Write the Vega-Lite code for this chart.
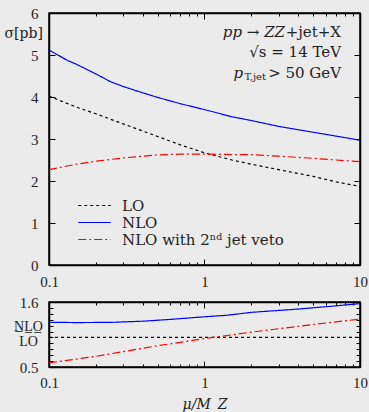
{
  "$schema": "https://vega.github.io/schema/vega-lite/v6.json",
  "background": "#ebebeb",
  "padding": {"left": 3, "top": 5, "right": 0, "bottom": 0},
  "spacing": 1,
  "config": {
    "font": "Liberation Serif",
    "view": {"stroke": "black", "strokeWidth": 1.5},
    "axis": {
      "grid": false,
      "domainColor": "black",
      "domainWidth": 1.5,
      "tickColor": "black",
      "tickWidth": 1,
      "labelColor": "#222222",
      "labelFontSize": 15,
      "labelFont": "Liberation Serif",
      "titleFont": "Liberation Serif",
      "titleFontWeight": "normal",
      "titleColor": "#222222"
    }
  },
  "datasets": {
    "main": [
      {"mu": 0.1, "sigma": 4.02, "series": "LO"},
      {"mu": 0.15, "sigma": 3.76, "series": "LO"},
      {"mu": 0.2, "sigma": 3.6, "series": "LO"},
      {"mu": 0.3, "sigma": 3.36, "series": "LO"},
      {"mu": 0.5, "sigma": 3.06, "series": "LO"},
      {"mu": 0.7, "sigma": 2.86, "series": "LO"},
      {"mu": 1, "sigma": 2.67, "series": "LO"},
      {"mu": 1.5, "sigma": 2.5, "series": "LO"},
      {"mu": 2, "sigma": 2.4, "series": "LO"},
      {"mu": 3, "sigma": 2.27, "series": "LO"},
      {"mu": 5, "sigma": 2.11, "series": "LO"},
      {"mu": 7, "sigma": 1.98, "series": "LO"},
      {"mu": 10, "sigma": 1.87, "series": "LO"},
      {"mu": 0.1, "sigma": 5.12, "series": "NLO"},
      {"mu": 0.13, "sigma": 4.88, "series": "NLO"},
      {"mu": 0.15, "sigma": 4.78, "series": "NLO"},
      {"mu": 0.2, "sigma": 4.55, "series": "NLO"},
      {"mu": 0.25, "sigma": 4.36, "series": "NLO"},
      {"mu": 0.3, "sigma": 4.25, "series": "NLO"},
      {"mu": 0.4, "sigma": 4.1, "series": "NLO"},
      {"mu": 0.5, "sigma": 3.99, "series": "NLO"},
      {"mu": 0.7, "sigma": 3.84, "series": "NLO"},
      {"mu": 1, "sigma": 3.7, "series": "NLO"},
      {"mu": 1.5, "sigma": 3.53, "series": "NLO"},
      {"mu": 2, "sigma": 3.44, "series": "NLO"},
      {"mu": 3, "sigma": 3.3, "series": "NLO"},
      {"mu": 5, "sigma": 3.16, "series": "NLO"},
      {"mu": 7, "sigma": 3.07, "series": "NLO"},
      {"mu": 10, "sigma": 2.97, "series": "NLO"},
      {"mu": 0.1, "sigma": 2.27, "series": "NLO with 2ⁿᵈ jet veto"},
      {"mu": 0.15, "sigma": 2.4, "series": "NLO with 2ⁿᵈ jet veto"},
      {"mu": 0.2, "sigma": 2.47, "series": "NLO with 2ⁿᵈ jet veto"},
      {"mu": 0.3, "sigma": 2.55, "series": "NLO with 2ⁿᵈ jet veto"},
      {"mu": 0.5, "sigma": 2.62, "series": "NLO with 2ⁿᵈ jet veto"},
      {"mu": 0.7, "sigma": 2.64, "series": "NLO with 2ⁿᵈ jet veto"},
      {"mu": 1, "sigma": 2.64, "series": "NLO with 2ⁿᵈ jet veto"},
      {"mu": 1.5, "sigma": 2.63, "series": "NLO with 2ⁿᵈ jet veto"},
      {"mu": 2, "sigma": 2.63, "series": "NLO with 2ⁿᵈ jet veto"},
      {"mu": 3, "sigma": 2.59, "series": "NLO with 2ⁿᵈ jet veto"},
      {"mu": 5, "sigma": 2.54, "series": "NLO with 2ⁿᵈ jet veto"},
      {"mu": 7, "sigma": 2.5, "series": "NLO with 2ⁿᵈ jet veto"},
      {"mu": 10, "sigma": 2.46, "series": "NLO with 2ⁿᵈ jet veto"}
    ],
    "ratio": [
      {"mu": 0.1, "r": 1.0, "series": "LO"},
      {"mu": 10, "r": 1.0, "series": "LO"},
      {"mu": 0.1, "r": 1.257, "series": "NLO"},
      {"mu": 0.15, "r": 1.252, "series": "NLO"},
      {"mu": 0.25, "r": 1.255, "series": "NLO"},
      {"mu": 0.4, "r": 1.275, "series": "NLO"},
      {"mu": 0.6, "r": 1.305, "series": "NLO"},
      {"mu": 1, "r": 1.35, "series": "NLO"},
      {"mu": 1.4, "r": 1.376, "series": "NLO"},
      {"mu": 2, "r": 1.425, "series": "NLO"},
      {"mu": 4, "r": 1.48, "series": "NLO"},
      {"mu": 7, "r": 1.535, "series": "NLO"},
      {"mu": 10, "r": 1.573, "series": "NLO"},
      {"mu": 0.1, "r": 0.57, "series": "NLO with 2ⁿᵈ jet veto"},
      {"mu": 0.2, "r": 0.68, "series": "NLO with 2ⁿᵈ jet veto"},
      {"mu": 0.5, "r": 0.86, "series": "NLO with 2ⁿᵈ jet veto"},
      {"mu": 1, "r": 0.98, "series": "NLO with 2ⁿᵈ jet veto"},
      {"mu": 2, "r": 1.09, "series": "NLO with 2ⁿᵈ jet veto"},
      {"mu": 5, "r": 1.22, "series": "NLO with 2ⁿᵈ jet veto"},
      {"mu": 10, "r": 1.31, "series": "NLO with 2ⁿᵈ jet veto"}
    ]
  },
  "vconcat": [
    {
      "width": 311,
      "height": 252,
      "layer": [
        {
          "data": {"name": "main"},
          "mark": {"type": "line", "strokeWidth": 1.2},
          "encoding": {
            "x": {
              "field": "mu", "type": "quantitative",
              "scale": {"type": "log", "domain": [0.1, 10]},
              "axis": {
                "orient": "bottom", "title": null,
                "values": [0.1,0.2,0.3,0.4,0.5,0.6,0.7,0.8,0.9,1,2,3,4,5,6,7,8,9,10],
                "labelExpr": "datum.value==0.1?'0.1':datum.value==1?'1':datum.value==10?'10':''",
                "labelOverlap": false, "labelFlush": false, "labelBound": false,
                "tickSize": {"condition": {"test": "datum.value==0.1||datum.value==1||datum.value==10", "value": -6}, "value": -3},
                "labelPadding": 15
              }
            },
            "y": {
              "field": "sigma", "type": "quantitative",
              "scale": {"domain": [0, 6]},
              "axis": {
                "orient": "left", "values": [0,1,2,3,4,5,6], "tickSize": -6, "labelPadding": 17,
                "title": "σ[pb]", "titleAngle": 0, "titleAlign": "left", "titleBaseline": "middle",
                "titleX": -45, "titleY": 20, "titleFontSize": 14, "titleFont": "DejaVu Serif"
              }
            },
            "color": {
              "field": "series", "type": "nominal",
              "scale": {"domain": ["LO", "NLO", "NLO with 2ⁿᵈ jet veto"], "range": ["black", "blue", "red"]},
              "legend": {
                "title": null, "orient": "none", "legendX": 37, "legendY": 184,
                "symbolType": "M-2.1,0H2.1", "symbolSize": 240, "symbolStrokeWidth": 1.2,
                "labelFont": "DejaVu Serif", "labelFontSize": 15, "labelColor": "#222222", "labelOffset": 19, "labelLimit": 300, "rowPadding": 0
              }
            },
            "strokeDash": {
              "field": "series", "type": "nominal",
              "scale": {"domain": ["LO", "NLO", "NLO with 2ⁿᵈ jet veto"], "range": [[3, 3], [1, 0], [8, 3, 2, 3]]},
              "legend": {
                "title": null, "orient": "none", "legendX": 37, "legendY": 184,
                "symbolType": "M-2.1,0H2.1", "symbolSize": 240, "symbolStrokeWidth": 1.2,
                "labelFont": "DejaVu Serif", "labelFontSize": 15, "labelColor": "#222222", "labelOffset": 19, "labelLimit": 300, "rowPadding": 0
              }
            }
          }
        },
        {
          "data": {"name": "main"},
          "mark": {"type": "line", "opacity": 0},
          "encoding": {
            "x": {
              "field": "mu", "type": "quantitative",
              "scale": {"type": "log", "domain": [0.1, 10]},
              "axis": {
                "orient": "top", "title": null, "labels": false,
                "values": [0.1,0.2,0.3,0.4,0.5,0.6,0.7,0.8,0.9,1,2,3,4,5,6,7,8,9,10],
                "tickSize": {"condition": {"test": "datum.value==0.1||datum.value==1||datum.value==10", "value": -6}, "value": -3}
              }
            },
            "y": {
              "field": "sigma", "type": "quantitative",
              "scale": {"domain": [0, 6]},
              "axis": {"orient": "right", "title": null, "labels": false, "values": [0,1,2,3,4,5,6], "tickSize": -6}
            }
          }
        },
        {
          "data": {"values": [{}]},
          "mark": {"type": "text", "align": "right", "baseline": "middle", "fontSize": 15, "font": "DejaVu Serif", "color": "#222222"},
          "encoding": {"x": {"datum": 7.55, "type": "quantitative", "axis": null}, "y": {"datum": 5.55, "type": "quantitative", "axis": null}, "text": {"value": "+jet+X"}}
        },
        {
          "data": {"values": [{}]},
          "mark": {"type": "text", "align": "right", "baseline": "middle", "fontSize": 15, "font": "DejaVu Serif", "fontStyle": "italic", "color": "#222222", "dx": -56},
          "encoding": {"x": {"datum": 7.55, "type": "quantitative", "axis": null}, "y": {"datum": 5.55, "type": "quantitative", "axis": null}, "text": {"value": "pp → ZZ"}}
        },
        {
          "data": {"values": [{}]},
          "mark": {"type": "text", "align": "right", "baseline": "middle", "fontSize": 15, "font": "DejaVu Serif", "color": "#222222"},
          "encoding": {"x": {"datum": 7.55, "type": "quantitative", "axis": null}, "y": {"datum": 5.08, "type": "quantitative", "axis": null}, "text": {"value": "√s = 14 TeV"}}
        },
        {
          "data": {"values": [{}]},
          "mark": {"type": "text", "align": "right", "baseline": "middle", "fontSize": 15, "font": "DejaVu Serif", "color": "#222222"},
          "encoding": {"x": {"datum": 7.55, "type": "quantitative", "axis": null}, "y": {"datum": 4.58, "type": "quantitative", "axis": null}, "text": {"value": "> 50 GeV"}}
        },
        {
          "data": {"values": [{}]},
          "mark": {"type": "text", "align": "right", "baseline": "middle", "fontSize": 10, "font": "DejaVu Serif", "color": "#222222", "dx": -75, "dy": 4},
          "encoding": {"x": {"datum": 7.55, "type": "quantitative", "axis": null}, "y": {"datum": 4.58, "type": "quantitative", "axis": null}, "text": {"value": "T,jet"}}
        },
        {
          "data": {"values": [{}]},
          "mark": {"type": "text", "align": "right", "baseline": "middle", "fontSize": 15, "font": "DejaVu Serif", "fontStyle": "italic", "color": "#222222", "dx": -98},
          "encoding": {"x": {"datum": 7.55, "type": "quantitative", "axis": null}, "y": {"datum": 4.58, "type": "quantitative", "axis": null}, "text": {"value": "p"}}
        }
      ],
      "resolve": {"axis": {"x": "independent", "y": "independent"}}
    },
    {
      "width": 311,
      "height": 65,
      "layer": [
        {
          "data": {"name": "ratio"},
          "mark": {"type": "line", "strokeWidth": 1.2},
          "encoding": {
            "x": {
              "field": "mu", "type": "quantitative",
              "scale": {"type": "log", "domain": [0.1, 10]},
              "axis": {
                "orient": "bottom", "title": "μ/M_Z", "titleFont": "DejaVu Serif", "titleFontSize": 14, "titleFontStyle": "italic", "titlePadding": 4,
                "values": [0.1,0.2,0.3,0.4,0.5,0.6,0.7,0.8,0.9,1,2,3,4,5,6,7,8,9,10],
                "labelExpr": "datum.value==0.1?'0.1':datum.value==1?'1':datum.value==10?'10':''",
                "labelOverlap": false, "labelFlush": false, "labelBound": false,
                "tickSize": {"condition": {"test": "datum.value==0.1||datum.value==1||datum.value==10", "value": -6}, "value": -3},
                "labelPadding": 14
              }
            },
            "y": {
              "field": "r", "type": "quantitative",
              "scale": {"domain": [0.5, 1.6]},
              "axis": {
                "orient": "left",
                "values": [0.5,0.6,0.7,0.8,0.9,1.0,1.1,1.2,1.3,1.4,1.5,1.6],
                "labelExpr": "datum.value==0.5?'0.5':datum.value==1.6?'1.6':''",
                "labelOverlap": false, "labelFlush": false, "labelBound": false,
                "tickSize": -4, "labelPadding": 15,
                "title": ["N̲L̲O̲", "LO"], "titleAngle": 0, "titleAlign": "center", "titleBaseline": "middle",
                "titleX": -21, "titleY": 24, "titleFontSize": 14, "titleLineHeight": 15
              }
            },
            "color": {
              "field": "series", "type": "nominal",
              "scale": {"domain": ["LO", "NLO", "NLO with 2ⁿᵈ jet veto"], "range": ["black", "blue", "red"]},
              "legend": null
            },
            "strokeDash": {
              "field": "series", "type": "nominal",
              "scale": {"domain": ["LO", "NLO", "NLO with 2ⁿᵈ jet veto"], "range": [[3, 3], [1, 0], [8, 3, 2, 3]]},
              "legend": null
            }
          }
        },
        {
          "data": {"name": "ratio"},
          "mark": {"type": "line", "opacity": 0},
          "encoding": {
            "x": {
              "field": "mu", "type": "quantitative",
              "scale": {"type": "log", "domain": [0.1, 10]},
              "axis": {
                "orient": "top", "title": null, "labels": false,
                "values": [0.1,0.2,0.3,0.4,0.5,0.6,0.7,0.8,0.9,1,2,3,4,5,6,7,8,9,10],
                "tickSize": {"condition": {"test": "datum.value==0.1||datum.value==1||datum.value==10", "value": -6}, "value": -3}
              }
            },
            "y": {
              "field": "r", "type": "quantitative",
              "scale": {"domain": [0.5, 1.6]},
              "axis": {"orient": "right", "title": null, "labels": false, "values": [0.5,0.6,0.7,0.8,0.9,1.0,1.1,1.2,1.3,1.4,1.5,1.6], "tickSize": -4}
            }
          }
        }
      ],
      "resolve": {"axis": {"x": "independent", "y": "independent"}}
    }
  ]
}
